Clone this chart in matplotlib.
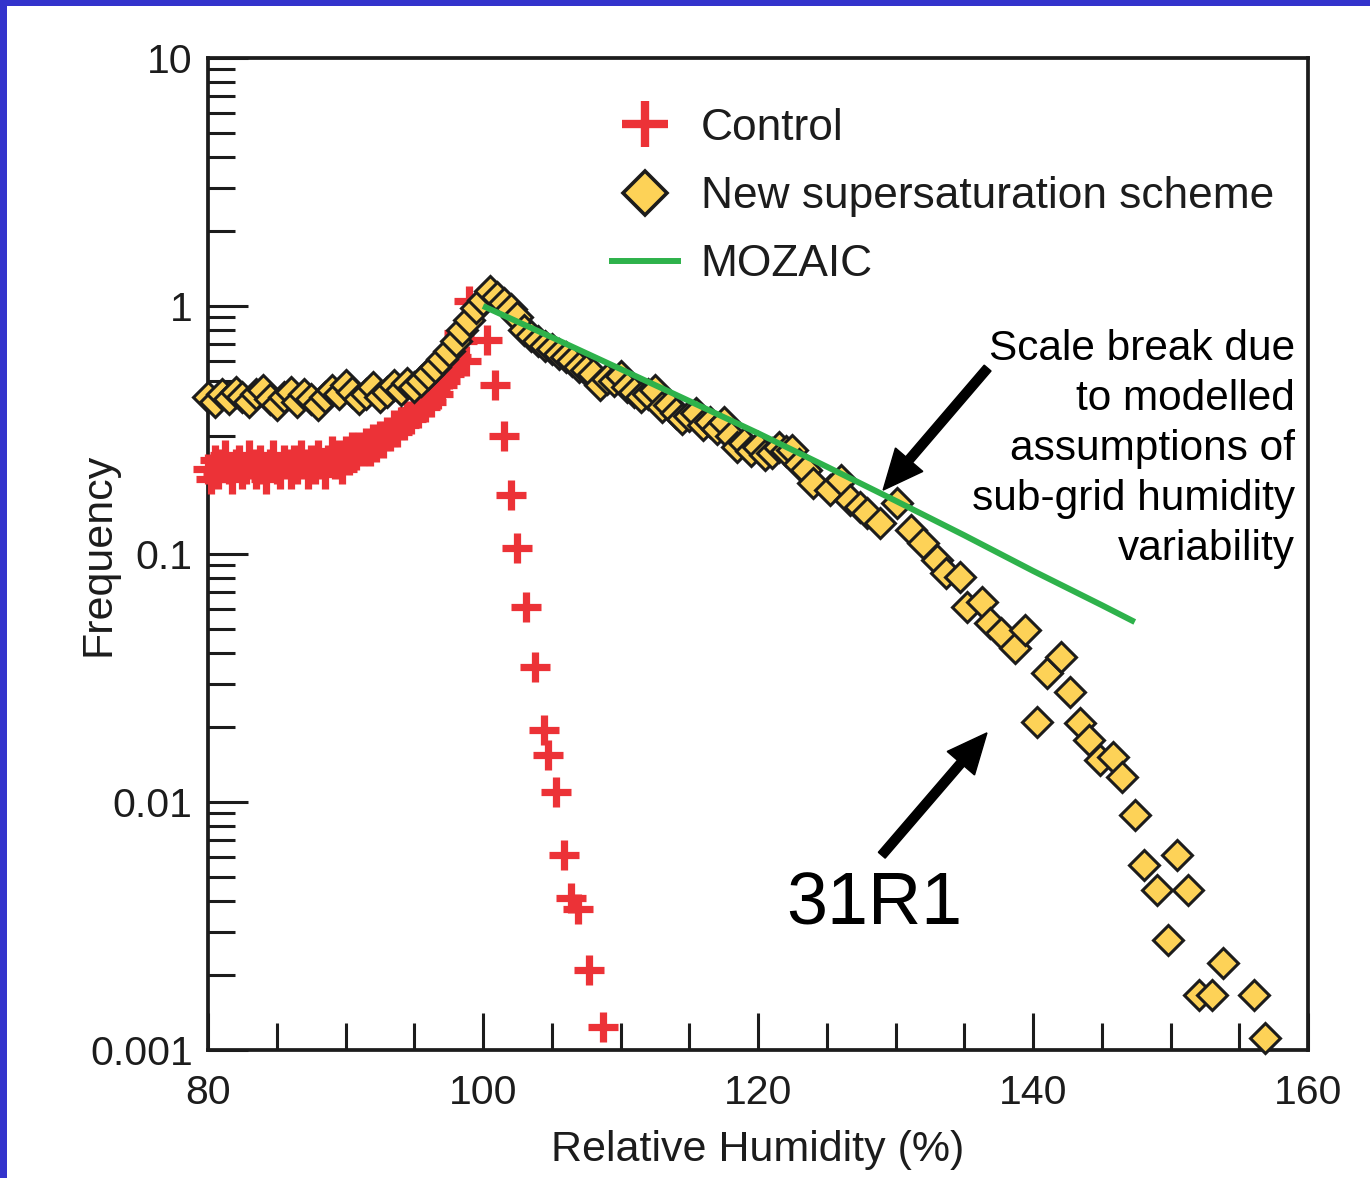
import numpy as np
import matplotlib
matplotlib.use('Agg')
import matplotlib.pyplot as plt
from matplotlib.lines import Line2D
from matplotlib.patches import Rectangle, FancyArrow
from matplotlib.ticker import MultipleLocator, LogLocator, NullFormatter
from matplotlib.transforms import IdentityTransform

plt.rcParams['font.family'] = ['Liberation Sans', 'DejaVu Sans']

# ---------------- data ----------------
control_rh = [80.0, 80.25, 80.5, 80.75, 81.0, 81.25, 81.5, 81.75, 82.0, 82.25,
              82.5, 82.75, 83.0, 83.25, 83.5, 83.75, 84.0, 84.25, 84.5, 84.75,
              85.0, 85.25, 85.5, 85.75, 86.0, 86.25, 86.5, 86.75, 87.0, 87.25,
              87.5, 87.75, 88.0, 88.25, 88.5, 88.75, 89.0, 89.25, 89.5, 89.75,
              90.0, 90.25, 90.5, 90.75, 91.0, 91.25, 91.5, 91.75, 92.0, 92.25,
              92.5, 92.75, 93.0, 93.25, 93.5, 93.75, 94.0, 94.25, 94.5, 94.75,
              95.0, 95.25, 95.5, 95.75, 96.0, 96.25, 96.5, 96.75, 97.0, 97.25,
              97.5, 97.75, 98.0, 98.25, 98.5, 98.75, 99.0,
              100.3, 100.9, 101.5, 102.0, 102.5, 103.1, 103.8, 104.4, 104.7,
              105.3, 105.9, 106.4, 106.9, 107.7, 108.7]
control_freq = [0.22, 0.20, 0.24, 0.21, 0.23, 0.25, 0.22, 0.20, 0.23, 0.24,
                0.21, 0.22, 0.25, 0.23, 0.21, 0.24, 0.22, 0.20, 0.23, 0.25,
                0.22, 0.21, 0.24, 0.23, 0.21, 0.24, 0.22, 0.25, 0.23, 0.21,
                0.24, 0.22, 0.25, 0.23, 0.21, 0.24, 0.26, 0.23, 0.25, 0.22,
                0.26, 0.24, 0.27, 0.25, 0.27, 0.26, 0.28, 0.26, 0.29, 0.27,
                0.30, 0.28, 0.31, 0.30, 0.33, 0.31, 0.34, 0.33, 0.36, 0.35,
                0.38, 0.37, 0.40, 0.39, 0.42, 0.41, 0.45, 0.44, 0.48, 0.50,
                0.53, 0.57, 0.62, 0.78, 0.72, 0.60, 1.05,
                0.73, 0.48, 0.30, 0.173, 0.106, 0.061, 0.035, 0.0195, 0.0155,
                0.011, 0.0061, 0.0041, 0.0037, 0.0021, 0.00124]

new_rh = [80.0, 80.5, 81.0, 81.5, 82.0, 82.5, 83.0, 83.5, 84.0, 84.5,
          85.0, 85.5, 86.0, 86.5, 87.0, 87.5, 88.0, 88.5, 89.0, 89.5,
          90.0, 90.5, 91.0, 91.5, 92.0, 92.5, 93.0, 93.5, 94.0, 94.5,
          95.0, 95.5, 96.0, 96.5, 97.0, 97.5, 98.0, 98.5, 99.0, 99.5,
          100.0, 100.5, 101.0, 101.5, 102.0, 102.5, 103.0, 103.5, 104.0, 104.5,
          105.0, 105.5, 106.0, 106.5, 107.0, 107.5, 108.0, 108.5, 109.0, 109.5,
          110.0, 110.5, 111.0, 111.5, 112.0, 112.5, 113.0, 113.5, 114.0, 114.5,
          115.0, 115.5, 116.0, 116.5, 117.0, 117.5, 118.0, 118.5, 119.0, 119.5,
          120.0, 120.5, 121.0, 121.5, 122.0, 122.5, 123.0, 123.5,
          124.0, 125.2, 126.0, 126.7, 127.4, 127.9, 128.9, 130.1, 131.1, 132.0,
          133.0, 133.7, 134.7, 135.2, 136.3, 136.9, 137.7, 138.7, 139.4, 140.3,
          141.0, 142.0, 142.7, 143.4, 144.1, 144.9, 145.8, 146.5, 147.4, 148.1,
          149.0, 149.8, 150.5, 151.3, 152.1, 153.0, 153.8, 156.1, 156.9]
new_freq = [0.43, 0.41, 0.44, 0.42, 0.45, 0.43, 0.41, 0.44, 0.46, 0.42,
            0.40, 0.43, 0.45, 0.41, 0.44, 0.42, 0.40, 0.43, 0.46, 0.44,
            0.48, 0.45, 0.42, 0.44, 0.47, 0.43, 0.45, 0.48, 0.46, 0.49,
            0.47, 0.50, 0.53, 0.57, 0.61, 0.66, 0.72, 0.80, 0.88, 0.98,
            1.06, 1.15, 1.09, 1.03, 0.97, 0.90, 0.80, 0.76, 0.72, 0.69,
            0.67, 0.64, 0.62, 0.60, 0.57, 0.55, 0.53, 0.48, 0.51, 0.50,
            0.52, 0.47, 0.45, 0.43, 0.44, 0.46, 0.39, 0.40, 0.37, 0.35,
            0.36, 0.37, 0.33, 0.34, 0.32, 0.34, 0.30, 0.27, 0.28, 0.26,
            0.27, 0.25, 0.255, 0.27, 0.26, 0.262, 0.23, 0.218,
            0.193, 0.181, 0.199, 0.165, 0.154, 0.146, 0.133, 0.161, 0.125, 0.111,
            0.0946, 0.0837, 0.0807, 0.0611, 0.064, 0.0527, 0.048, 0.0418, 0.0494, 0.0210,
            0.0331, 0.0385, 0.0278, 0.0208, 0.0178, 0.0148, 0.0152, 0.0126, 0.00887, 0.00557,
            0.00442, 0.00278, 0.0061, 0.00442, 0.00167, 0.00167, 0.00224, 0.00167, 0.00112]

mozaic_rh = [100.0, 105.0, 110.0, 115.0, 120.0, 125.0, 130.0, 135.0, 140.0, 145.0, 147.4]
mozaic_freq = [1.0, 0.748, 0.557, 0.414, 0.307, 0.225, 0.164, 0.119, 0.0855, 0.0622, 0.0532]

xticks = [80, 100, 120, 140, 160]
yticks = [0.001, 0.01, 0.1, 1, 10]
ytick_labels = ['0.001', '0.01', '0.1', '1', '10']

legend_labels = ['Control', 'New supersaturation scheme', 'MOZAIC']
note_text = 'Scale break due\nto modelled\nassumptions of\nsub-grid humidity\nvariability'
version_text = '31R1'

# ---------------- style ----------------
RED = '#EC3237'
YELLOW = '#FDD257'
GREEN = '#2EB24B'
DARK = '#1c1c1c'

W, H = 1370, 1178
fig = plt.figure(figsize=(W / 100, H / 100), dpi=100)
fig.patch.set_facecolor('white')

# blue frame (left and top)
fig.add_artist(Rectangle((0, 0), 7 / W, 1, transform=fig.transFigure,
                         facecolor='#3333CC', edgecolor='none', zorder=0))
fig.add_artist(Rectangle((0, 1 - 6 / H), 1, 6 / H, transform=fig.transFigure,
                         facecolor='#3333CC', edgecolor='none', zorder=0))

ax = fig.add_axes([208 / W, 1 - 1050 / H, 1100 / W, 992 / H])
ax.set_yscale('log')
ax.set_xlim(80, 160)
ax.set_ylim(0.001, 10)

ax.plot(control_rh, control_freq, ls='none', marker='+', ms=22, mew=5.2,
        color=RED, clip_on=False, zorder=3)
ax.plot(new_rh, new_freq, ls='none', marker='D', ms=15, mew=2.2,
        mfc=YELLOW, mec=DARK, clip_on=False, zorder=4)
ax.plot(mozaic_rh, mozaic_freq, color=GREEN, lw=4.3, solid_capstyle='butt', zorder=5)

# ticks
ax.set_xticks(xticks)
ax.xaxis.set_minor_locator(MultipleLocator(5))
ax.set_yticks(yticks)
ax.set_yticklabels(ytick_labels)
ax.yaxis.set_minor_locator(LogLocator(base=10, subs=np.arange(2, 10)))
ax.yaxis.set_minor_formatter(NullFormatter())
ax.tick_params(which='both', direction='in', top=False, right=False,
               width=2.2, color=DARK, labelcolor=DARK, labelsize=29.5)
ax.tick_params(axis='x', which='major', length=26.6, pad=17)
ax.tick_params(axis='x', which='minor', length=19.4)
ax.tick_params(axis='y', which='major', length=28.8, pad=11)
ax.tick_params(axis='y', which='minor', length=19.4)
for s in ax.spines.values():
    s.set_linewidth(2.7)
    s.set_color(DARK)

ax.set_xlabel('Relative Humidity (%)', fontsize=31, color=DARK, labelpad=13)
ax.set_ylabel('Frequency', fontsize=31, color=DARK)
ax.yaxis.set_label_coords((118 - 208) / 1100, 0.5)

# legend
handles = [Line2D([], [], ls='none', marker='+', ms=33, mew=6.0, color=RED),
           Line2D([], [], ls='none', marker='D', ms=22, mew=2.6, mfc=YELLOW, mec=DARK),
           Line2D([], [], color=GREEN, lw=4.3)]
ax.legend(handles, legend_labels, loc='upper left',
          bbox_to_anchor=(612 / W, 1 - 108 / H), bbox_transform=fig.transFigure,
          frameon=False, fontsize=31.9, handlelength=1.48, handletextpad=0.52,
          labelspacing=0.61, borderpad=0, borderaxespad=0, labelcolor=DARK)

# annotations
fig.text(1295 / W, 1 - 449 / H, note_text, ha='right', va='center',
         fontsize=30.5, color='black', linespacing=1.33)
fig.text(874 / W, 1 - 905 / H, version_text, ha='center', va='center',
         fontsize=53, color='black')

fig.canvas.draw()
def px(x, y):
    return ax.transData.transform((x, y))

for tail, tip in [((136.7, 0.562), (129.1, 0.181)), ((129.0, 0.0061), (136.65, 0.019))]:
    t0 = px(*tail)
    t1 = px(*tip)
    arr = FancyArrow(t0[0], t0[1], t1[0] - t0[0], t1[1] - t0[1], width=9,
                     head_width=36, head_length=40, length_includes_head=True,
                     color='black', transform=IdentityTransform(), zorder=6)
    fig.add_artist(arr)

fig.savefig('out.png', dpi=100)
